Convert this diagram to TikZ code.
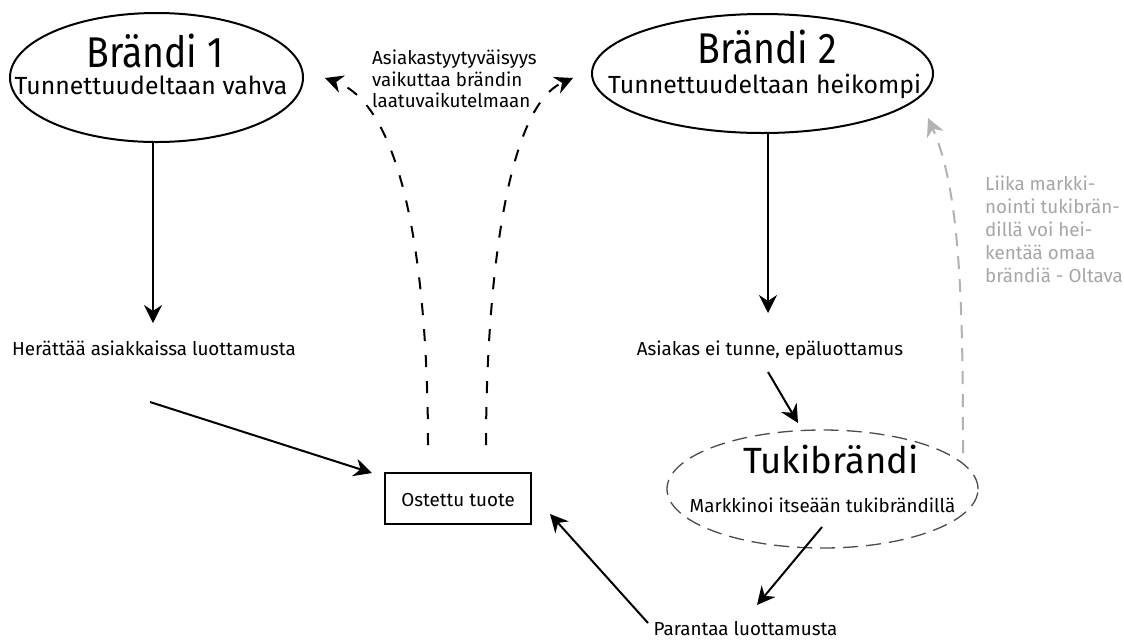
\documentclass[tikz,border=0pt]{standalone}
\usepackage{fontspec}
\setmainfont{Fira Sans}
\newfontfamily\titlefont[FakeStretch=0.87]{Fira Sans}
\usetikzlibrary{arrows.meta,shapes.geometric}
\begin{document}
\begin{tikzpicture}[x=1pt,y=-1pt,
  tip/.style={-{Stealth[length=18pt,width=18pt,inset=6pt]}},
  arr/.style={tip,line width=2pt},
  dsh/.style={tip,line width=2pt,dash pattern=on 12pt off 14pt},
  gdsh/.style={tip,line width=2pt,dash pattern=on 13pt off 10pt,draw=black!30},
  ell/.style={ellipse,draw,line width=2pt,inner sep=0pt},
  big/.style={font=\titlefont\fontsize{43}{45}\selectfont,anchor=base,inner sep=0pt},
  mid/.style={font=\fontsize{24.8}{27}\selectfont,anchor=base,inner sep=0pt},
  lbl/.style={font=\fontsize{18.8}{22}\selectfont,anchor=base,inner sep=0pt,text height=13pt,text depth=4pt}
]
\useasboundingbox (0,0) rectangle (1124,641);
\fill[white] (0,0) rectangle (1124,641);

% ellipses
\node[ell,minimum width=293pt,minimum height=129pt] (b1) at (156.5,77.5) {};
\node[big] (b1t) at (155,67) {Brändi 1};
\node[mid] (b1s) at (151,94) {Tunnettuudeltaan vahva};

\node[ell,minimum width=341pt,minimum height=119pt] (b2) at (762.5,73.5) {};
\node[big] (b2t) at (767,63) {Brändi 2};
\node[mid] (b2s) at (764.5,93) {Tunnettuudeltaan heikompi};

\node[ellipse,draw=black!70,line width=1.3pt,dash pattern=on 15pt off 8pt,inner sep=0pt,
      minimum width=311pt,minimum height=118pt] (tuki) at (822.5,489) {};
\node[font=\fontsize{36.5}{38}\selectfont,anchor=base,inner sep=0pt] (tukit) at (831,473) {Tukibrändi};
\node[lbl] (tukis) at (822.5,512) {Markkinoi itseään tukibrändillä};

% box
\node[draw,line width=1.6pt,minimum width=146pt,minimum height=51pt,inner sep=0pt] (box) at (458,498.5) {};
\node[lbl] (boxt) at (458,506) {Ostettu tuote};

% labels
\node[lbl] (h1) at (154,355) {Herättää asiakkaissa luottamusta};
\node[lbl] (a2) at (770,355) {Asiakas ei tunne, epäluottamus};
\node[lbl] (p) at (745.5,635) {Parantaa luottamusta};

\node[font=\fontsize{18.8}{21.5}\selectfont,align=left,anchor=north west,inner sep=0pt] (note) at (372,50)
  {Asiakastyytyväisyys\\vaikuttaa brändin\\laatuvaikutelmaan};
\node[font=\fontsize{18.8}{23}\selectfont,text=black!35,align=left,anchor=north west,inner sep=0pt] (gnote) at (985,176)
  {Liika markki-\\nointi tukibrän-\\dillä voi hei-\\kentää omaa\\brändiä - Oltava};

% free ends
\coordinate (h1down) at (153,323);
\coordinate (h1out) at (150,402);
\coordinate (boxin) at (372,473);
\coordinate (d1s) at (428,445);
\coordinate (d1e) at (325,78);
\coordinate (d2s) at (486,445);
\coordinate (d2e) at (573,78);
\coordinate (a2in) at (768,313);
\coordinate (a2out) at (768,372);
\coordinate (tukiin) at (798,423);
\coordinate (tukiout) at (822,527);
\coordinate (pin) at (757,605);
\coordinate (pout) at (648,623);
\coordinate (boxin2) at (550,514);
\coordinate (gs) at (963,453);
\coordinate (gend) at (928,118);

% connectors
\draw[arr] (h1down |- b1.south) -- (h1down);
\draw[arr] (h1out) -- (boxin);
\draw[arr] (a2in |- b2.south) -- (a2in);
\draw[arr] (a2out) -- (tukiin);
\draw[arr] (tukiout) -- (pin);
\draw[arr] (pout) -- (boxin2);
\draw[dsh] (d1s) .. controls (428,320) and (415,110) .. (d1e);
\draw[dsh] (d2s) .. controls (486,320) and (500,110) .. (d2e);
\draw[gdsh] (gs) .. controls (963,300) and (960,190) .. (gend);
\end{tikzpicture}
\end{document}
